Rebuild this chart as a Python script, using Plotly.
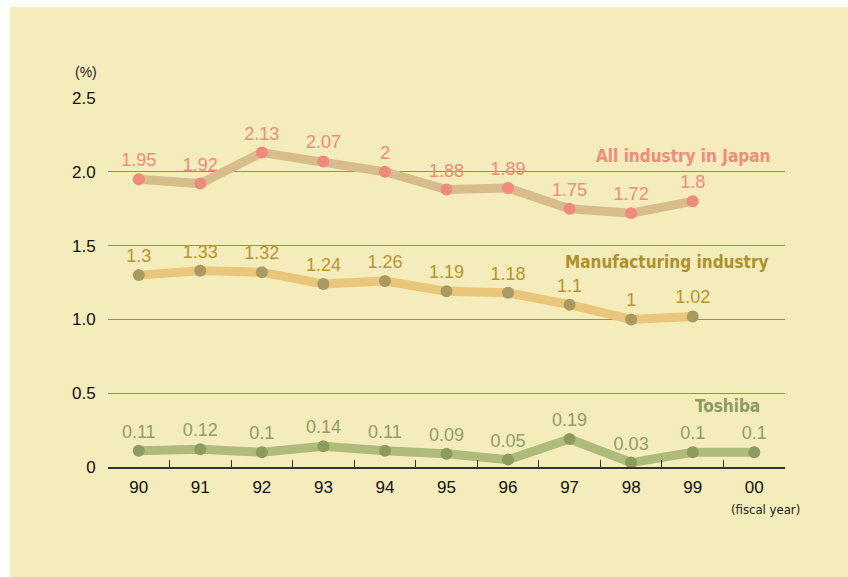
import plotly.graph_objects as go

years = ["90", "91", "92", "93", "94", "95", "96", "97", "98", "99", "00"]
all_industry = [1.95, 1.92, 2.13, 2.07, 2, 1.88, 1.89, 1.75, 1.72, 1.8]
manufacturing = [1.3, 1.33, 1.32, 1.24, 1.26, 1.19, 1.18, 1.1, 1, 1.02]
toshiba = [0.11, 0.12, 0.1, 0.14, 0.11, 0.09, 0.05, 0.19, 0.03, 0.1, 0.1]
y_ticks = [0, 0.5, 1.0, 1.5, 2.0, 2.5]
y_tick_labels = ["0", "0.5", "1.0", "1.5", "2.0", "2.5"]

series = [
    ("All industry in Japan", all_industry, "#d8bd8c", "#f08a7a", "#f08a7a"),
    ("Manufacturing industry", manufacturing, "#e9c67a", "#a89a62", "#b8952b"),
    ("Toshiba", toshiba, "#aebb7b", "#8e9b5e", "#8fa062"),
]

idx = list(range(len(years)))
FONT = "Liberation Sans, Arial, sans-serif"
NARROW = "DejaVu Sans Condensed, Liberation Sans Narrow, Arial Narrow, sans-serif"

fig = go.Figure()
for name, vals, lc, mc, tc in series:
    fig.add_trace(go.Scatter(
        x=idx[:len(vals)], y=vals, mode="lines+markers+text",
        line=dict(color=lc, width=9),
        marker=dict(color=mc, size=12),
        text=[f"{v:g}" for v in vals], textposition="top center",
        textfont=dict(color=tc, size=18, family=FONT),
        cliponaxis=False, showlegend=False, name=name, hoverinfo="skip",
    ))

# series name labels
fig.add_annotation(x=10.29, y=2.107, text="All industry in Japan", showarrow=False,
                   xanchor="right", yanchor="middle",
                   font=dict(color="#f08a7a", size=17, family=NARROW, weight="bold"))
fig.add_annotation(x=10.26, y=1.389, text="Manufacturing industry", showarrow=False,
                   xanchor="right", yanchor="middle",
                   font=dict(color="#b0902c", size=17, family=NARROW, weight="bold"))
fig.add_annotation(x=10.13, y=0.413, text="Toshiba", showarrow=False,
                   xanchor="right", yanchor="middle",
                   font=dict(color="#8e9b5e", size=17, family=NARROW, weight="bold"))

fig.add_annotation(xref="paper", yref="paper", x=-0.0325, y=1.0705, text="(%)", showarrow=False,
                   xanchor="center", yanchor="middle",
                   font=dict(color="#222", size=14, family=FONT))
fig.add_annotation(x=10.18, yref="paper", y=-0.1165, text="(fiscal year)", showarrow=False,
                   xanchor="center", yanchor="middle",
                   font=dict(color="#222", size=13, family=NARROW))

# cream panel
fig.add_shape(type="rect", xref="paper", yref="paper", x0=-0.1448, x1=1.12, y0=-0.32, y1=1.2466,
              fillcolor="#f4ecbb", line=dict(width=0), layer="below")

fig.update_layout(
    width=848, height=577,
    margin=dict(l=108, r=63, t=98, b=110),
    paper_bgcolor="white", plot_bgcolor="rgba(0,0,0,0)",
    font=dict(family=FONT, color="#111"),
    hovermode=False,
    xaxis=dict(range=[-0.5, 10.5], tickvals=idx, ticktext=years, ticks="",
               showgrid=False, zeroline=False, showline=True, linecolor="#333", linewidth=1.5,
               tickfont=dict(size=17, color="#111"), ticklabelstandoff=4,
               minor=dict(tickvals=[i + 0.5 for i in idx[:-1]], ticks="inside", ticklen=7,
                          tickcolor="#333", tickwidth=1.2, showgrid=False)),
    yaxis=dict(range=[0, 2.5], tickvals=y_ticks, ticktext=y_tick_labels,
               showgrid=True, gridcolor="#8c8c88", gridwidth=1, zeroline=False, showline=False,
               ticks="outside", ticklen=8, tickcolor="rgba(0,0,0,0)",
               tickfont=dict(size=17, color="#111")),
)

fig.write_html("out.html", config={"displayModeBar": False},
               post_script="document.body.style.margin='0';document.body.style.overflow='hidden';")
